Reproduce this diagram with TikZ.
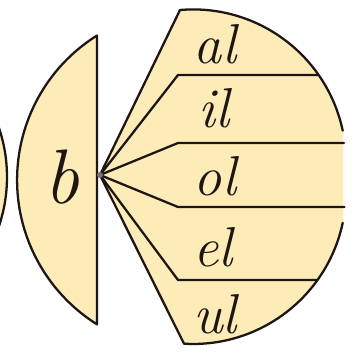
\documentclass[tikz,border=0pt]{standalone}
\usepackage{tikz}
\definecolor{paper}{RGB}{253,236,183}
\definecolor{ink}{RGB}{30,22,20}

\begin{document}
\begin{tikzpicture}[x=0.2mm, y=0.2mm, line width=1.3pt, line join=round, line cap=round,
	piece/.style={fill=paper, draw=ink},
	edge/.style={draw=ink},
	syl/.style={font=\fontsize{32}{32}\selectfont\itshape, text=ink, anchor=base, inner sep=0pt}]
	\useasboundingbox (0,0) rectangle (354,354);
	% piece cut off at the left border
	\begin{scope}
		\clip (0,0) rectangle (354,354);
		\filldraw[piece] (-146,177) circle (153);
	\end{scope}
	% half disc with the consonant
	\filldraw[piece] (97,318.5) arc[start angle=122.1, end angle=237.9, radius=170.5] -- cycle;
	\node[syl, font=\fontsize{44}{44}\selectfont\itshape] (cons) at (62,150) {b};
	% fan with the endings
	\coordinate (apex) at (100,179);
	\coordinate (top) at (180,344);
	\coordinate (bot) at (184,10.3);
	\fill[paper] (apex) -- (top) arc[start angle=94.9, end angle=10.5, radius=153] -- (343.4,135)
		arc[start angle=-10.5, end angle=-93.4, radius=153] -- cycle;
	\draw[edge] (apex) -- (top) arc[start angle=94.9, end angle=12, radius=153];
	\draw[edge] (apex) -- (bot) arc[start angle=-93.4, end angle=-12, radius=153];
	\foreach \y/\xr in {279/318, 211/344, 147/344.5, 74/317.5} {
		\draw[edge] (apex) -- (178,\y) -- (\xr,\y);
	}
	\foreach \t/\x/\y in {al/215/290, il/214/226, ol/215/158, el/213/87, ul/215/21} {
		\node[syl] (\t) at (\x,\y) {\t};
	}
	\fill[ink!60] (apex) circle (3);
\end{tikzpicture}
\end{document}
